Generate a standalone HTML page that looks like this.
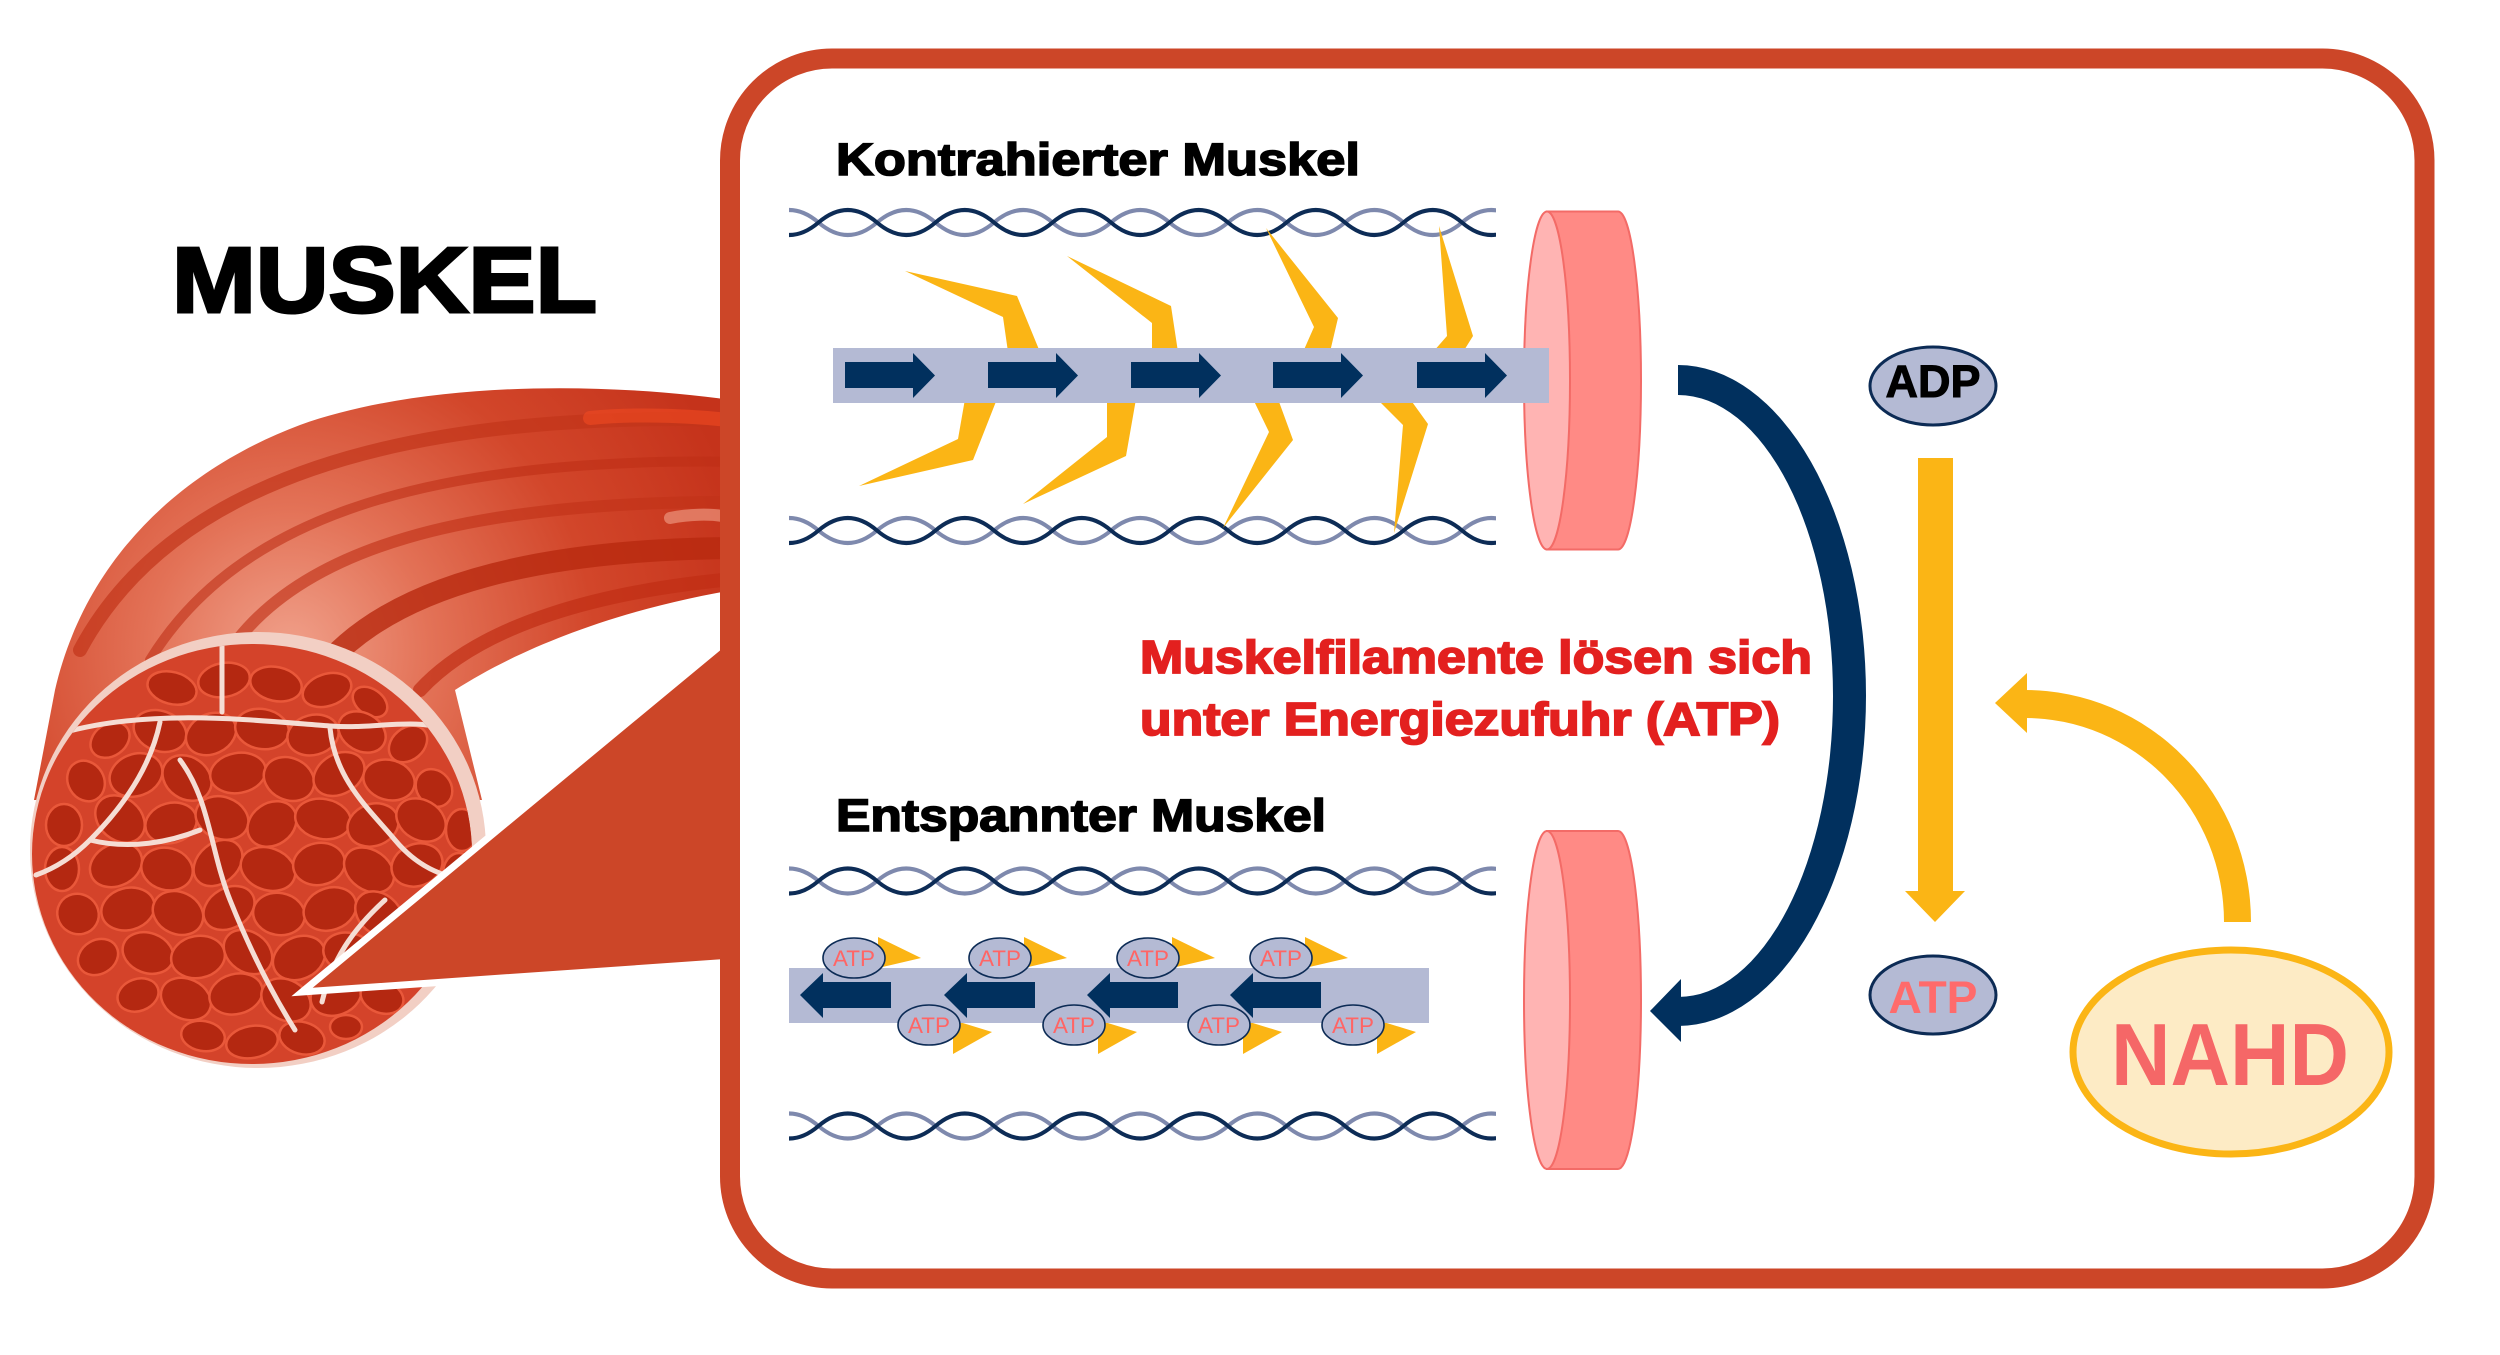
<!DOCTYPE html>
<html><head><meta charset="utf-8">
<style>
html,body{margin:0;padding:0;background:#fff;}
svg{display:block;}
text{font-family:"Liberation Sans",Arial,sans-serif;font-weight:bold;}
.c{fill:#B42811;stroke:#E9583A;stroke-width:2.5;}
.sep{fill:none;stroke:#F5DDD4;stroke-width:5;stroke-linecap:round;}
.st{fill:none;stroke-linecap:round;}
.y{fill:#FBB515;}
.nv{fill:#01305E;}
.sa{fill:#B4BAD4;stroke:#0C2B55;stroke-width:1.6;}
.sat{font-family:"Liberation Sans",Arial,sans-serif;font-weight:normal;font-size:22px;fill:#FF6565;}
</style></head>
<body>
<svg width="2500" height="1355" viewBox="0 0 2500 1355" xmlns="http://www.w3.org/2000/svg">
<defs>
  <clipPath id="hc"><rect x="789" y="-20" width="707" height="40"/></clipPath>
  <g id="helix" clip-path="url(#hc)" fill="none" stroke-width="4">
    <path stroke="#7E89AD" d="M760,0 q29.25,-25 58.5,0 t58.5,0 t58.5,0 t58.5,0 t58.5,0 t58.5,0 t58.5,0 t58.5,0 t58.5,0 t58.5,0 t58.5,0 t58.5,0 t58.5,0 t58.5,0"/>
    <path stroke="#0D2C56" d="M760,0 q29.25,25 58.5,0 t58.5,0 t58.5,0 t58.5,0 t58.5,0 t58.5,0 t58.5,0 t58.5,0 t58.5,0 t58.5,0 t58.5,0 t58.5,0 t58.5,0 t58.5,0"/>
  </g>
  <g id="disc">
    <path d="M1547,-169 L1618,-169 A23,169 0 0 1 1618,169 L1547,169 Z" fill="#FF8A85" stroke="#F36B67" stroke-width="2"/>
    <ellipse cx="1547" cy="0" rx="23" ry="169" fill="#FFB4B3" stroke="#F36B67" stroke-width="2"/>
  </g>
  <radialGradient id="tg" cx="290" cy="650" r="470" gradientUnits="userSpaceOnUse">
    <stop offset="0" stop-color="#F0A08A"/>
    <stop offset="0.3" stop-color="#E37257"/>
    <stop offset="0.65" stop-color="#D2462A"/>
    <stop offset="1" stop-color="#C5331B"/>
  </radialGradient>
  <clipPath id="tube"><path d="M745,402 C600,380 420,382 300,425 C180,470 85,560 55,690 L34,800 L482,800 L455,690 C520,648 620,608 745,588 Z"/></clipPath>
  <clipPath id="cs"><ellipse cx="252" cy="854" rx="220" ry="210"/></clipPath>
</defs>

<!-- MUSCLE TUBE -->
<path d="M745,402 C600,380 420,382 300,425 C180,470 85,560 55,690 L34,800 L482,800 L455,690 C520,648 620,608 745,588 Z" fill="url(#tg)"/>
<g clip-path="url(#tube)">
  <path class="st" d="M80,650 C160,500 360,408 745,420" stroke="#C23519" stroke-width="14" opacity="0.7"/>
  <path class="st" d="M150,660 C230,530 400,455 745,462" stroke="#BE2F16" stroke-width="10" opacity="0.6"/>
  <path class="st" d="M230,650 C300,550 460,500 745,502" stroke="#C23318" stroke-width="12" opacity="0.65"/>
  <path class="st" d="M330,660 C400,585 540,548 745,548" stroke="#B8290F" stroke-width="22" opacity="0.8"/>
  <path class="st" d="M420,690 C480,625 600,590 745,578" stroke="#C02E14" stroke-width="14" opacity="0.7"/>
  <path class="st" d="M590,418 C640,413 700,416 745,422" stroke="#F04A22" stroke-width="14" opacity="0.6"/>
  <path class="st" d="M670,518 C690,514 710,514 722,516" stroke="#F2A48C" stroke-width="12" opacity="0.6"/>
</g>

<!-- CROSS SECTION -->
<ellipse cx="258" cy="850" rx="228" ry="218" fill="#F2CFC4"/>
<ellipse cx="252" cy="854" rx="220" ry="210" fill="#D4432A"/>
<g clip-path="url(#cs)">
<ellipse class="c" cx="172" cy="688" rx="25" ry="16" transform="rotate(15 172 688)"/>
<ellipse class="c" cx="224" cy="680" rx="26" ry="17" transform="rotate(-10 224 680)"/>
<ellipse class="c" cx="276" cy="684" rx="26" ry="17" transform="rotate(12 276 684)"/>
<ellipse class="c" cx="327" cy="690" rx="25" ry="16" transform="rotate(-18 327 690)"/>
<ellipse class="c" cx="370" cy="702" rx="19" ry="13" transform="rotate(35 370 702)"/>
<ellipse class="c" cx="110" cy="740" rx="21" ry="16" transform="rotate(-35 110 740)"/>
<ellipse class="c" cx="160" cy="731" rx="27" ry="20" transform="rotate(20 160 731)"/>
<ellipse class="c" cx="211" cy="734" rx="26" ry="20" transform="rotate(-25 211 734)"/>
<ellipse class="c" cx="262" cy="729" rx="27" ry="20" transform="rotate(10 262 729)"/>
<ellipse class="c" cx="313" cy="735" rx="26" ry="20" transform="rotate(-15 313 735)"/>
<ellipse class="c" cx="362" cy="732" rx="25" ry="19" transform="rotate(30 362 732)"/>
<ellipse class="c" cx="408" cy="744" rx="21" ry="16" transform="rotate(-40 408 744)"/>
<ellipse class="c" cx="86" cy="781" rx="21" ry="18" transform="rotate(60 86 781)"/>
<ellipse class="c" cx="136" cy="775" rx="27" ry="21" transform="rotate(-20 136 775)"/>
<ellipse class="c" cx="187" cy="778" rx="26" ry="21" transform="rotate(35 187 778)"/>
<ellipse class="c" cx="238" cy="773" rx="28" ry="20" transform="rotate(-10 238 773)"/>
<ellipse class="c" cx="289" cy="779" rx="26" ry="21" transform="rotate(25 289 779)"/>
<ellipse class="c" cx="339" cy="774" rx="27" ry="20" transform="rotate(-30 339 774)"/>
<ellipse class="c" cx="389" cy="780" rx="26" ry="20" transform="rotate(15 389 780)"/>
<ellipse class="c" cx="434" cy="788" rx="20" ry="17" transform="rotate(50 434 788)"/>
<ellipse class="c" cx="64" cy="825" rx="18" ry="21"/>
<ellipse class="c" cx="120" cy="819" rx="27" ry="21" transform="rotate(40 120 819)"/>
<ellipse class="c" cx="171" cy="823" rx="26" ry="20" transform="rotate(-15 171 823)"/>
<ellipse class="c" cx="222" cy="818" rx="27" ry="21" transform="rotate(20 222 818)"/>
<ellipse class="c" cx="272" cy="824" rx="26" ry="21" transform="rotate(-35 272 824)"/>
<ellipse class="c" cx="323" cy="819" rx="28" ry="20" transform="rotate(10 323 819)"/>
<ellipse class="c" cx="373" cy="825" rx="26" ry="21" transform="rotate(-20 373 825)"/>
<ellipse class="c" cx="421" cy="820" rx="26" ry="20" transform="rotate(30 421 820)"/>
<ellipse class="c" cx="462" cy="830" rx="16" ry="21"/>
<ellipse class="c" cx="62" cy="869" rx="17" ry="22"/>
<ellipse class="c" cx="116" cy="865" rx="27" ry="21" transform="rotate(-25 116 865)"/>
<ellipse class="c" cx="167" cy="869" rx="26" ry="21" transform="rotate(15 167 869)"/>
<ellipse class="c" cx="218" cy="863" rx="27" ry="20" transform="rotate(-40 218 863)"/>
<ellipse class="c" cx="268" cy="869" rx="28" ry="21" transform="rotate(20 268 869)"/>
<ellipse class="c" cx="319" cy="864" rx="26" ry="21" transform="rotate(-10 319 864)"/>
<ellipse class="c" cx="369" cy="870" rx="27" ry="20" transform="rotate(35 369 870)"/>
<ellipse class="c" cx="417" cy="865" rx="26" ry="21" transform="rotate(-20 417 865)"/>
<ellipse class="c" cx="459" cy="874" rx="16" ry="21"/>
<ellipse class="c" cx="78" cy="914" rx="21" ry="20" transform="rotate(30 78 914)"/>
<ellipse class="c" cx="128" cy="909" rx="27" ry="21" transform="rotate(-15 128 909)"/>
<ellipse class="c" cx="178" cy="913" rx="26" ry="21" transform="rotate(25 178 913)"/>
<ellipse class="c" cx="229" cy="908" rx="27" ry="20" transform="rotate(-30 229 908)"/>
<ellipse class="c" cx="279" cy="914" rx="26" ry="21" transform="rotate(10 279 914)"/>
<ellipse class="c" cx="330" cy="909" rx="27" ry="21" transform="rotate(-20 330 909)"/>
<ellipse class="c" cx="379" cy="914" rx="26" ry="20" transform="rotate(40 379 914)"/>
<ellipse class="c" cx="427" cy="911" rx="22" ry="18" transform="rotate(-10 427 911)"/>
<ellipse class="c" cx="98" cy="957" rx="21" ry="17" transform="rotate(-30 98 957)"/>
<ellipse class="c" cx="148" cy="953" rx="26" ry="20" transform="rotate(20 148 953)"/>
<ellipse class="c" cx="198" cy="957" rx="27" ry="21" transform="rotate(-10 198 957)"/>
<ellipse class="c" cx="248" cy="952" rx="26" ry="20" transform="rotate(35 248 952)"/>
<ellipse class="c" cx="299" cy="958" rx="27" ry="21" transform="rotate(-25 299 958)"/>
<ellipse class="c" cx="349" cy="953" rx="26" ry="20" transform="rotate(15 349 953)"/>
<ellipse class="c" cx="396" cy="958" rx="25" ry="18" transform="rotate(-30 396 958)"/>
<ellipse class="c" cx="436" cy="952" rx="16" ry="16"/>
<ellipse class="c" cx="138" cy="995" rx="21" ry="16" transform="rotate(-20 138 995)"/>
<ellipse class="c" cx="186" cy="999" rx="26" ry="20" transform="rotate(25 186 999)"/>
<ellipse class="c" cx="236" cy="994" rx="27" ry="20" transform="rotate(-15 236 994)"/>
<ellipse class="c" cx="286" cy="1000" rx="26" ry="20" transform="rotate(30 286 1000)"/>
<ellipse class="c" cx="336" cy="995" rx="26" ry="20" transform="rotate(-20 336 995)"/>
<ellipse class="c" cx="382" cy="997" rx="22" ry="16" transform="rotate(20 382 997)"/>
<ellipse class="c" cx="203" cy="1036" rx="22" ry="15" transform="rotate(10 203 1036)"/>
<ellipse class="c" cx="252" cy="1042" rx="26" ry="16" transform="rotate(-10 252 1042)"/>
<ellipse class="c" cx="302" cy="1038" rx="23" ry="16" transform="rotate(15 302 1038)"/>
<ellipse class="c" cx="346" cy="1027" rx="16" ry="12"/>
<path class="sep" d="M62,733 C150,708 250,720 330,726 C380,730 420,714 460,735"/>
<path class="sep" d="M222,645 L222,712"/>
<path class="sep" d="M330,728 C335,780 370,810 395,840 C420,870 450,880 478,880"/>
<path class="sep" d="M160,722 C150,770 120,810 90,840 C70,860 50,870 36,875"/>
<path class="sep" d="M180,760 C210,800 210,850 230,900 C250,950 270,990 295,1030"/>
<path class="sep" d="M90,840 C130,850 170,842 200,830"/>
<path class="sep" d="M385,900 C352,930 332,960 322,1002"/>
</g>

<!-- CALLOUT WEDGE -->
<polygon points="302,992 732,636 732,962" fill="#CC4628" stroke="#fff" stroke-width="7" stroke-linejoin="miter"/>

<!-- FRAME -->
<rect x="730" y="58.5" width="1694.5" height="1220" rx="102" ry="102" fill="#fff" stroke="#CC4628" stroke-width="20"/>

<!-- TITLE -->
<text x="172" y="312" font-size="93" textLength="425" lengthAdjust="spacingAndGlyphs" fill="#000" stroke="#000" stroke-width="3">MUSKEL</text>

<!-- CONTRACTED -->
<text x="836" y="175" font-size="45" textLength="524" lengthAdjust="spacingAndGlyphs" fill="#000" stroke="#000" stroke-width="1.6">Kontrahierter Muskel</text>
<use href="#helix" y="222.5"/>
<use href="#helix" y="530.5"/>

<g class="y">
  <polygon points="905,271 1017,296 1040,352 1008,352 1003,317"/>
  <polygon points="965,399 958,439 859,486 973,460 997,399"/>
  <polygon points="1067,256 1171,306 1178,352 1152,352 1152,323"/>
  <polygon points="1107,399 1107,437 1023,504 1126,456 1136,399"/>
  <polygon points="1266,228 1338,318 1330,352 1303,352 1314,327"/>
  <polygon points="1253,399 1269,432 1223,528 1293,440 1278,399"/>
  <polygon points="1439,226 1473,336 1463,352 1433,352 1447,336"/>
  <polygon points="1377,399 1403,425 1394,533 1428,424 1410,399"/>
</g>

<use href="#disc" y="380.5"/>
<rect x="833" y="348" width="716" height="55" fill="#B4BAD4"/>
<g class="nv">
  <polygon points="845,362 913,362 913,353 935,375.5 913,398 913,388 845,388"/>
  <polygon points="988,362 1056,362 1056,353 1078,375.5 1056,398 1056,388 988,388"/>
  <polygon points="1131,362 1199,362 1199,353 1221,375.5 1199,398 1199,388 1131,388"/>
  <polygon points="1273,362 1341,362 1341,353 1363,375.5 1341,398 1341,388 1273,388"/>
  <polygon points="1417,362 1485,362 1485,353 1507,375.5 1485,398 1485,388 1417,388"/>
</g>

<!-- RELAXED -->
<text x="836" y="831" font-size="45" textLength="490" lengthAdjust="spacingAndGlyphs" fill="#000" stroke="#000" stroke-width="1.6">Entspannter Muskel</text>
<use href="#helix" y="881"/>
<use href="#helix" y="1126"/>
<use href="#disc" y="1000"/>

<g class="y">
  <polygon points="878,937 921,958 878,968"/>
  <polygon points="1024,937 1067,958 1024,968"/>
  <polygon points="1172,937 1215,958 1172,968"/>
  <polygon points="1305,937 1348,958 1305,968"/>
  <polygon points="953,1020 992,1032 953,1054"/>
  <polygon points="1098,1020 1137,1032 1098,1054"/>
  <polygon points="1243,1020 1282,1032 1243,1054"/>
  <polygon points="1377,1020 1416,1032 1377,1054"/>
</g>
<rect x="789" y="968" width="640" height="55" fill="#B4BAD4"/>

<g>
  <ellipse class="sa" cx="854" cy="958" rx="31" ry="20"/>
  <ellipse class="sa" cx="1000" cy="958" rx="31" ry="20"/>
  <ellipse class="sa" cx="1148" cy="958" rx="31" ry="20"/>
  <ellipse class="sa" cx="1281" cy="958" rx="31" ry="20"/>
  <ellipse class="sa" cx="929" cy="1025" rx="31" ry="20"/>
  <ellipse class="sa" cx="1074" cy="1025" rx="31" ry="20"/>
  <ellipse class="sa" cx="1219" cy="1025" rx="31" ry="20"/>
  <ellipse class="sa" cx="1353" cy="1025" rx="31" ry="20"/>
</g>
<g>
  <text class="sat" x="854" y="966" text-anchor="middle" textLength="42" lengthAdjust="spacingAndGlyphs">ATP</text>
  <text class="sat" x="1000" y="966" text-anchor="middle" textLength="42" lengthAdjust="spacingAndGlyphs">ATP</text>
  <text class="sat" x="1148" y="966" text-anchor="middle" textLength="42" lengthAdjust="spacingAndGlyphs">ATP</text>
  <text class="sat" x="1281" y="966" text-anchor="middle" textLength="42" lengthAdjust="spacingAndGlyphs">ATP</text>
  <text class="sat" x="929" y="1033" text-anchor="middle" textLength="42" lengthAdjust="spacingAndGlyphs">ATP</text>
  <text class="sat" x="1074" y="1033" text-anchor="middle" textLength="42" lengthAdjust="spacingAndGlyphs">ATP</text>
  <text class="sat" x="1219" y="1033" text-anchor="middle" textLength="42" lengthAdjust="spacingAndGlyphs">ATP</text>
  <text class="sat" x="1353" y="1033" text-anchor="middle" textLength="42" lengthAdjust="spacingAndGlyphs">ATP</text>
</g>
<g class="nv">
  <polygon points="800,995 823,973 823,982 891,982 891,1008 823,1008 823,1018"/>
  <polygon points="944,995 967,973 967,982 1035,982 1035,1008 967,1008 967,1018"/>
  <polygon points="1087,995 1110,973 1110,982 1178,982 1178,1008 1110,1008 1110,1018"/>
  <polygon points="1230,995 1253,973 1253,982 1321,982 1321,1008 1253,1008 1253,1018"/>
</g>

<!-- RED TEXT -->
<text x="1140" y="673" font-size="46" textLength="672" lengthAdjust="spacingAndGlyphs" fill="#E3201F" stroke="#E3201F" stroke-width="1.8">Muskelfilamente lösen sich</text>
<text x="1140" y="735" font-size="46" textLength="640" lengthAdjust="spacingAndGlyphs" fill="#E3201F" stroke="#E3201F" stroke-width="1.8">unter Energiezufuhr (ATP)</text>

<!-- NAVY ARC -->
<path class="nv" d="M1678,365 A188,330.5 0 0 1 1678,1026 L1678,997 A155,301 0 0 0 1678,395 Z"/>
<polygon class="nv" points="1681,979 1650,1011 1681,1042"/>

<!-- ADP / ATP -->
<ellipse cx="1933" cy="386" rx="63" ry="39" fill="#B4BAD4" stroke="#0C2B55" stroke-width="3"/>
<text x="1933" y="397" font-size="45" text-anchor="middle" textLength="95" lengthAdjust="spacingAndGlyphs" fill="#000" stroke="#000" stroke-width="1">ADP</text>
<rect x="1918" y="458" width="35" height="434" class="y"/>
<polygon class="y" points="1905,891 1965,891 1935,922"/>
<ellipse cx="1933" cy="995" rx="63" ry="39" fill="#B4BAD4" stroke="#0C2B55" stroke-width="3"/>
<text x="1933" y="1013" font-size="45" text-anchor="middle" textLength="89" lengthAdjust="spacingAndGlyphs" fill="#FF6B6B">ATP</text>

<!-- NAHD -->
<path class="y" d="M2025,690 A226,232 0 0 1 2251,922 L2224,922 A199,204 0 0 0 2025,718 Z"/>
<polygon class="y" points="2027,673 1995,703 2027,733"/>
<ellipse cx="2231" cy="1052" rx="158" ry="102" fill="#FDEBC5" stroke="#FBB515" stroke-width="7"/>
<text x="2111" y="1085" font-size="88" textLength="238" lengthAdjust="spacingAndGlyphs" fill="#F56767">NAHD</text>
</svg>
</body></html>
